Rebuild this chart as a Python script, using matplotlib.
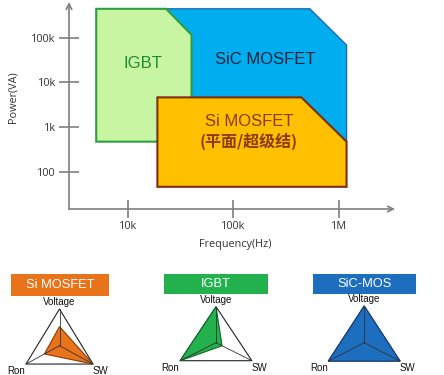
import matplotlib
matplotlib.use("Agg")
import matplotlib.pyplot as plt
from matplotlib.patches import Polygon, Rectangle
import numpy as np

# ---------------- data ----------------
freq_ticks = [1e4, 1e5, 1e6]
freq_labels = ["10k", "100k", "1M"]
power_ticks = [1e2, 1e3, 1e4, 1e5]
power_labels = ["100", "1k", "10k", "100k"]

# region outlines (frequency Hz, power VA)
igbt_f = [5.0e3, 5.0e3, 2.3e4, 4.0e4, 4.0e4]
igbt_p = [470, 4.4e5, 4.4e5, 1.15e5, 470]
sic_f = [2.3e4, 2.3e4, 5.3e5, 1.18e6, 1.18e6]
sic_p = [470, 4.4e5, 4.4e5, 6.8e4, 470]
si_f = [1.9e4, 1.9e4, 4.4e5, 1.18e6, 1.18e6]
si_p = [46, 4.6e3, 4.6e3, 470, 46]

region_names = ["IGBT", "SiC MOSFET", "Si MOSFET", "(平面/超级结)"]

# radar charts: axes order Voltage, Ron, SW
radar_axes = ["Voltage", "Ron", "SW"]
radar_titles = ["Si MOSFET", "IGBT", "SiC-MOS"]
si_vals = [0.52, 0.45, 1.0]
igbt_vals = [1.0, 1.0, 0.17]
sicmos_vals = [1.0, 1.0, 1.0]

# ---------------- figure ----------------
W, H = 444, 375
fig = plt.figure(figsize=(W / 100, H / 100), dpi=100)
fig.patch.set_facecolor("white")


def px_axes(x0, y0, x1, y1):
    return fig.add_axes([x0 / W, 1 - y1 / H, (x1 - x0) / W, (y1 - y0) / H])


AX_GRAY = "#7f7f7f"
tick_font = dict(family="Open Sans", size=7.8, color="#333333")

ax = px_axes(69, 2, 395, 209)
ax.set_xscale("log")
ax.set_yscale("log")
ax.set_xlim(10 ** 3.441, 10 ** 6.531)
ax.set_ylim(10 ** 1.166, 10 ** 5.796)
for s in ax.spines.values():
    s.set_visible(False)
ax.patch.set_alpha(0)

ax.add_patch(Polygon(np.column_stack([sic_f, sic_p]), closed=True,
                     facecolor="#00AEEF", edgecolor="#1F6AAE", lw=1.0, zorder=2))
ax.add_patch(Polygon(np.column_stack([igbt_f, igbt_p]), closed=True,
                     facecolor="#C8F5A2", edgecolor="#2E9E44", lw=1.5, zorder=3))
ax.add_patch(Polygon(np.column_stack([si_f, si_p]), closed=True,
                     facecolor="#FFC000", edgecolor="#7A2E12", lw=1.5, zorder=4))

ax.text(1.39e4, 2.7e4, region_names[0], ha="center", va="center",
        family="Liberation Sans", size=12, color="#1E8A34", zorder=5)
ax.text(1.99e5, 3.3e4, region_names[1], ha="center", va="center",
        family="Liberation Sans", size=12, color="#13233A", zorder=5)
ax.text(1.4e5, 1.36e3, region_names[2], ha="center", va="center",
        family="Liberation Sans", size=12, color="#8B3A12", zorder=5)
ax.text(1.4e5, 487, region_names[3], ha="center", va="center",
        family=["Noto Sans CJK SC", "DejaVu Sans"], weight="bold", size=11.5,
        color="#8B3A12", zorder=5)

ax.set_xticks(freq_ticks)
ax.set_xticklabels(freq_labels, **tick_font)
ax.set_yticks(power_ticks)
ax.set_yticklabels(power_labels, **tick_font)
ax.minorticks_off()
ax.tick_params(axis="x", direction="inout", length=13, width=1.2, color=AX_GRAY, pad=2)
ax.tick_params(axis="y", direction="inout", length=15, width=1.2, color=AX_GRAY, pad=2)

ax.annotate("", xy=(0, 1.0), xytext=(0, 0), xycoords="axes fraction",
            arrowprops=dict(arrowstyle="->", color=AX_GRAY, lw=1.2,
                            shrinkA=0, shrinkB=0))
ax.annotate("", xy=(1.0, 0), xytext=(0, 0), xycoords="axes fraction",
            arrowprops=dict(arrowstyle="->", color=AX_GRAY, lw=1.2,
                            shrinkA=0, shrinkB=0))

fig.text(235 / W, 1 - 245 / H, "Frequency(Hz)", ha="center", va="center",
         family="Open Sans", size=7.8, color="#333333")
fig.text(13 / W, 1 - 97 / H, "Power(VA)", ha="center", va="center",
         rotation=90, family="Open Sans", size=7.8, color="#333333")

# ---------------- radar charts ----------------
ang = np.deg2rad([90, 210, 330])
vx, vy = np.cos(ang), np.sin(ang)

radar_specs = [
    # (values, fill, edge, center px x, center px y, sx, sy, box x0, x1, y0, y1)
    (si_vals, "#E8731A", "#8A3A08", 59.5, 345.7, 38.7, 36.7, 10.7, 109, 274, 296),
    (igbt_vals, "#22B14C", "#0F6A2A", 216, 342.7, 41.4, 36, 164, 268, 274, 293.5),
    (sicmos_vals, "#1E6EC0", "#123E7A", 364.2, 342.7, 41.4, 36.7, 313, 416, 274, 293.5),
]

for (vals, fc, ec, cx, cy, sx, sy, bx0, bx1, by0, by1), title in zip(radar_specs, radar_titles):
    xl, xr, yb, yt = -1.6, 1.6, -1.05, 1.3
    rax = px_axes(cx + xl * sx, cy - yt * sy, cx + xr * sx, cy - yb * sy)
    rax.set_xlim(xl, xr)
    rax.set_ylim(yb, yt)
    rax.axis("off")
    v = np.array(vals)
    rax.add_patch(Polygon(np.column_stack([vx, vy]), closed=True,
                          facecolor="white", edgecolor="#222222", lw=0.8, zorder=1))
    rax.add_patch(Polygon(np.column_stack([vx * v, vy * v]), closed=True,
                          facecolor=fc, edgecolor=ec, lw=0.8, zorder=2))
    for k in range(3):
        rax.plot([0, vx[k]], [0, vy[k]], color="#333333", lw=0.6, zorder=3)
    rax.text(0, 1.06, radar_axes[0], ha="center", va="bottom",
             family="Liberation Sans", size=7, color="#111111")
    rax.text(vx[1] - 0.02, vy[1] - 0.19, radar_axes[1], ha="right", va="center",
             family="Liberation Sans", size=7, color="#111111")
    rax.text(vx[2], vy[2] - 0.19, radar_axes[2], ha="left", va="center",
             family="Liberation Sans", size=7, color="#111111")

    bax = px_axes(bx0, by0, bx1, by1)
    bax.axis("off")
    bax.add_patch(Rectangle((0, 0), 1, 1, transform=bax.transAxes,
                            facecolor=fc, edgecolor="none"))
    bax.text(0.5, 0.48, title, ha="center", va="center", transform=bax.transAxes,
             family="Liberation Sans", size=9.3, color="white")

fig.savefig("out.png", dpi=100)
